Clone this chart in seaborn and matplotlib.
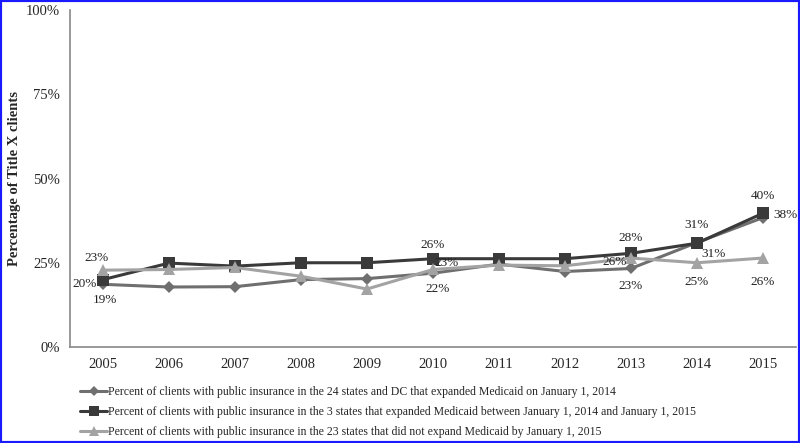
import pandas as pd
import numpy as np
import matplotlib
matplotlib.use("Agg")
import matplotlib.pyplot as plt
import matplotlib.patches as patches
from matplotlib.ticker import FixedLocator, PercentFormatter
import seaborn as sns

# data (percent of Title X clients)
years = list(range(2005, 2016))
expanded_2014 = [18.6, 17.8, 17.9, 20.0, 20.3, 21.9, 24.6, 22.4, 23.3, 31.0, 38.4]
expanded_between = [20.0, 24.9, 24.0, 25.0, 25.0, 26.2, 26.2, 26.2, 27.8, 30.8, 39.7]
not_expanded = [22.8, 23.0, 23.6, 21.0, 17.2, 23.0, 24.3, 24.1, 26.4, 25.0, 26.4]

series_names = [
    "Percent of clients with public insurance in the 24 states and DC that expanded Medicaid on January 1, 2014",
    "Percent of clients with public insurance in the 3 states that expanded Medicaid between January 1, 2014 and January 1, 2015",
    "Percent of clients with public insurance in the 23 states that did not expand Medicaid by January 1, 2015",
]
label_years = [2005, 2010, 2013, 2014, 2015]

colors = ["#6f6f6f", "#3a3a3a", "#a3a3a3"]
markers = ["D", "s", "^"]
msizes = [6, 8, 8]

# label offsets in pixels (dx, dy up) per series, per labelled year
offsets = [
    {2005: (2, -16), 2010: (5, -16), 2013: (0, -18), 2014: (17, -11), 2015: (23, 3)},
    {2005: (-18, -4), 2010: (0, 14), 2013: (0, 15), 2014: (0, 18), 2015: (0, 17)},
    {2005: (-6, 12), 2010: (14, 6), 2013: (-16, -4), 2014: (0, -19), 2015: (0, -24)},
]

df = pd.DataFrame({
    "Year": years * 3,
    "Value": expanded_2014 + expanded_between + not_expanded,
    "Series": [series_names[0]] * 11 + [series_names[1]] * 11 + [series_names[2]] * 11,
})
df["Share"] = df["Value"] / 100

sns.set_style("white")
plt.rcParams["font.family"] = ["Liberation Serif", "DejaVu Serif"]

fig = plt.figure(figsize=(8, 4.43), dpi=100)
ax = fig.add_axes([0.0875, 0.2167, 0.9075, 0.7607])

sns.lineplot(data=df, x="Year", y="Share", hue="Series", style="Series",
             palette=colors, markers=markers, dashes=False, linewidth=2.2,
             markeredgewidth=0, ax=ax)
for line, ms in zip(ax.lines, msizes):
    line.set_markersize(ms)

handles, labels = ax.get_legend_handles_labels()
ax.get_legend().remove()
for h, ms in zip(handles, msizes):
    h.set_markersize(ms * 0.85)
    h.set_markeredgewidth(0)

# data labels
px = 72 / fig.dpi
for vals, offs in zip([expanded_2014, expanded_between, not_expanded], offsets):
    for yr in label_years:
        v = vals[years.index(yr)]
        dx, dy = offs[yr]
        ax.annotate(f"{round(v):.0f}%", (yr, v / 100), xytext=(dx * px, dy * px),
                    textcoords="offset points", ha="center", va="center",
                    fontsize=9.5, color="#222222")

ax.set_xlim(2004.5, 2015.5)
ax.set_ylim(0, 1)
ax.set_xticks(years)
ax.xaxis.set_minor_locator(FixedLocator(np.arange(2004.5, 2016, 1)))
ax.tick_params(axis="x", which="major", length=0, pad=8, labelsize=10.5)
ax.tick_params(axis="x", which="minor", length=4, width=1, color="#888888", direction="out")
ax.set_yticks([0, 0.25, 0.5, 0.75, 1.0])
ax.yaxis.set_major_formatter(PercentFormatter(1.0, decimals=0))
ax.tick_params(axis="y", length=4, width=1, color="#888888", direction="out", labelsize=10.5, pad=3)
ax.set_xlabel("")
ax.set_ylabel("Percentage of Title X clients", fontsize=10.5, fontweight="bold", labelpad=4)

sns.despine(ax=ax)
for side in ["left", "bottom"]:
    ax.spines[side].set_color("#888888")
    ax.spines[side].set_linewidth(1.2)

fig.legend(handles, labels, loc="upper left", bbox_to_anchor=(80 / 800, 1 - 386 / 443),
           frameon=False, fontsize=8.5, handlelength=2.3, handletextpad=0.1,
           labelspacing=0.68, borderpad=0, borderaxespad=0)

fig.add_artist(patches.Rectangle((0, 0), 1, 1, transform=fig.transFigure, fill=False,
                                 edgecolor="#1a1aff", linewidth=3, clip_on=False))

fig.savefig("out.png", dpi=100)
